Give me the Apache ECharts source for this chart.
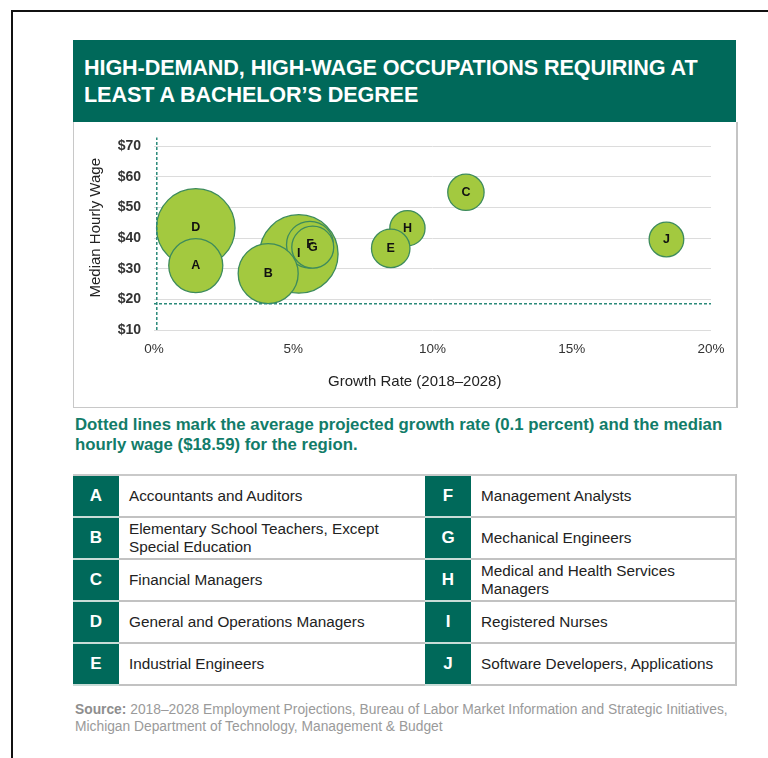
<!DOCTYPE html>
<html>
<head>
<meta charset="utf-8">
<script src="https://cdn.jsdelivr.net/npm/echarts@6/dist/echarts.min.js"></script>
<style>
  html, body { margin: 0; padding: 0; background: #fff; }
  body { width: 768px; height: 758px; overflow: hidden; position: relative; font-family: "Liberation Sans", Arial, sans-serif; }
  .frame { position: absolute; left: 11px; top: 10px; width: 800px; height: 800px; border-top: 2px solid #111; border-left: 2px solid #111; }
  .band { position: absolute; left: 73px; top: 40px; width: 663px; height: 82px; background: #00695a; }
  .band h1 { margin: 0; padding: 14px 0 0 11px; color: #fff; font-size: 21.6px; line-height: 27px; font-weight: bold; letter-spacing: -0.1px; white-space: nowrap; }
  #chart { position: absolute; left: 73px; top: 122px; width: 662px; height: 285px; border: 1px solid #c8c8c8; border-top: none; border-right: 2px solid #c4c4c4; }
  .caption { position: absolute; left: 75px; top: 415px; width: 665px; color: #127c69; font-weight: bold; font-size: 16.8px; line-height: 20px; }
  table { position: absolute; left: 73px; top: 474px; border-collapse: collapse; width: 664px; }
  td { height: 40px; border-bottom: 2px solid #c2c2c2; padding: 0; font-size: 15.3px; color: #222; line-height: 18px; }
  td.k { width: 46px; background: #00695a; color: #fff; font-weight: bold; font-size: 17px; text-align: center; border-bottom: 2px solid #c9dcd7; }
  td.t { padding-left: 10px; }
  td.t.r { border-right: 2px solid #c2c2c2; }
  tr:first-child td { border-top: 2px solid #c9c9c9; }
  .source { position: absolute; left: 75px; top: 701px; color: #9a9a9a; font-size: 13.8px; line-height: 17px; white-space: nowrap; }
  .source b { color: #8e8e8e; }
</style>
</head>
<body>
<div class="frame"></div>
<div class="band"><h1>HIGH-DEMAND, HIGH-WAGE OCCUPATIONS REQUIRING AT<br>LEAST A BACHELOR’S DEGREE</h1></div>
<div id="chart"></div>
<div class="caption">Dotted lines mark the average projected growth rate (0.1 percent) and the median hourly wage ($18.59) for the region.</div>
<table id="key"></table>
<div class="source"><b>Source:</b> 2018–2028 Employment Projections, Bureau of Labor Market Information and Strategic Initiatives,<br>Michigan Department of Technology, Management &amp; Budget</div>

<script>
// occupation letters and names
const letters = ['A', 'B', 'C', 'D', 'E', 'F', 'G', 'H', 'I', 'J']
const occupations = [
  'Accountants and Auditors',
  'Elementary School Teachers, Except Special Education',
  'Financial Managers',
  'General and Operations Managers',
  'Industrial Engineers',
  'Management Analysts',
  'Mechanical Engineers',
  'Medical and Health Services Managers',
  'Registered Nurses',
  'Software Developers, Applications'
]
// growth rate 2018-2028 (%)
const growthRate = [1.5, 4.1, 11.2, 1.5, 8.5, 5.6, 5.7, 9.1, 5.2, 18.4]
// median hourly wage ($)
const medianWage = [31.0, 28.4, 54.9, 43.3, 36.6, 37.8, 37.0, 43.2, 34.8, 39.5]
// relative bubble size (employment)
const bubbleSize = [73, 90, 33, 154, 37, 55, 44, 31, 154, 30]
// order in which bubbles are stacked (first is at the back)
const drawOrder = ['D', 'I', 'F', 'G', 'B', 'A', 'H', 'E', 'C', 'J']

// regional averages (dotted lines)
const regionGrowth = 0.1
const regionWage = 18.59

const xTicks = [0, 5, 10, 15, 20]
const yTicks = [10, 20, 30, 40, 50, 60, 70]

// key table below the chart
const key = document.getElementById('key')
for (let i = 0; i < 5; i++) {
  const tr = document.createElement('tr')
  tr.innerHTML = '<td class="k">' + letters[i] + '</td><td class="t" style="width:296px">' +
    occupations[i].replace('Except Special', 'Except<br>Special') + '</td>' +
    '<td class="k">' + letters[i + 5] + '</td><td class="t r">' +
    occupations[i + 5].replace('Services Managers', 'Services<br>Managers') + '</td>'
  key.appendChild(tr)
}

const points = drawOrder.map(function(l) {
  const i = letters.indexOf(l)
  return [growthRate[i], medianWage[i], bubbleSize[i], l]
})

const dashed = { color: '#2b8a7a', type: [3, 2], width: 1.5 }

const chart = echarts.init(document.getElementById('chart'))
chart.setOption({
  animation: false,
  textStyle: { fontFamily: 'Liberation Sans, Arial, sans-serif' },
  grid: { left: 80, right: 25, top: 24, bottom: 77 },
  xAxis: {
    type: 'value',
    min: xTicks[0],
    max: xTicks[xTicks.length - 1],
    interval: 5,
    axisLine: { show: false },
    axisTick: { show: false },
    splitLine: { show: false },
    axisLabel: { formatter: '{value}%', color: '#333', fontSize: 13.5, margin: 12 }
  },
  yAxis: {
    type: 'value',
    min: yTicks[0],
    max: yTicks[yTicks.length - 1],
    interval: 10,
    axisLine: { show: false },
    axisTick: { show: false },
    splitLine: { lineStyle: { color: '#dcdcdc', width: 1 } },
    axisLabel: { formatter: '${value}', color: '#333', fontWeight: 'bold', fontSize: 14, margin: 13 }
  },
  graphic: [
    {
      type: 'text', left: 14, top: 36, rotation: Math.PI / 2,
      style: { text: 'Median Hourly Wage', fill: '#222', font: '15px "Liberation Sans", Arial' }
    },
    {
      type: 'text', left: 254, top: 252,
      style: { text: 'Growth Rate (2018–2028)', fill: '#222', font: '15px "Liberation Sans", Arial' }
    }
  ],
  series: [
    {
      type: 'line',
      clip: false,
      silent: true,
      symbol: 'none',
      lineStyle: dashed,
      data: [[regionGrowth, yTicks[0]], [regionGrowth, 72.8]]
    },
    {
      type: 'line',
      clip: false,
      silent: true,
      symbol: 'none',
      lineStyle: dashed,
      data: [[xTicks[0], regionWage], [xTicks[xTicks.length - 1], regionWage]]
    },
    {
      type: 'scatter',
      data: points,
      symbolSize: function(d) { return 2 * Math.sqrt(d[2] * 10) },
      itemStyle: { color: '#a3c93f', borderColor: '#3d8b5c', borderWidth: 1.3, opacity: 1 },
      label: {
        show: true,
        position: 'inside',
        formatter: function(p) { return p.data[3] },
        color: '#111',
        fontWeight: 'bold',
        fontSize: 12.5
      }
    }
  ]
})
</script>
</body>
</html>
